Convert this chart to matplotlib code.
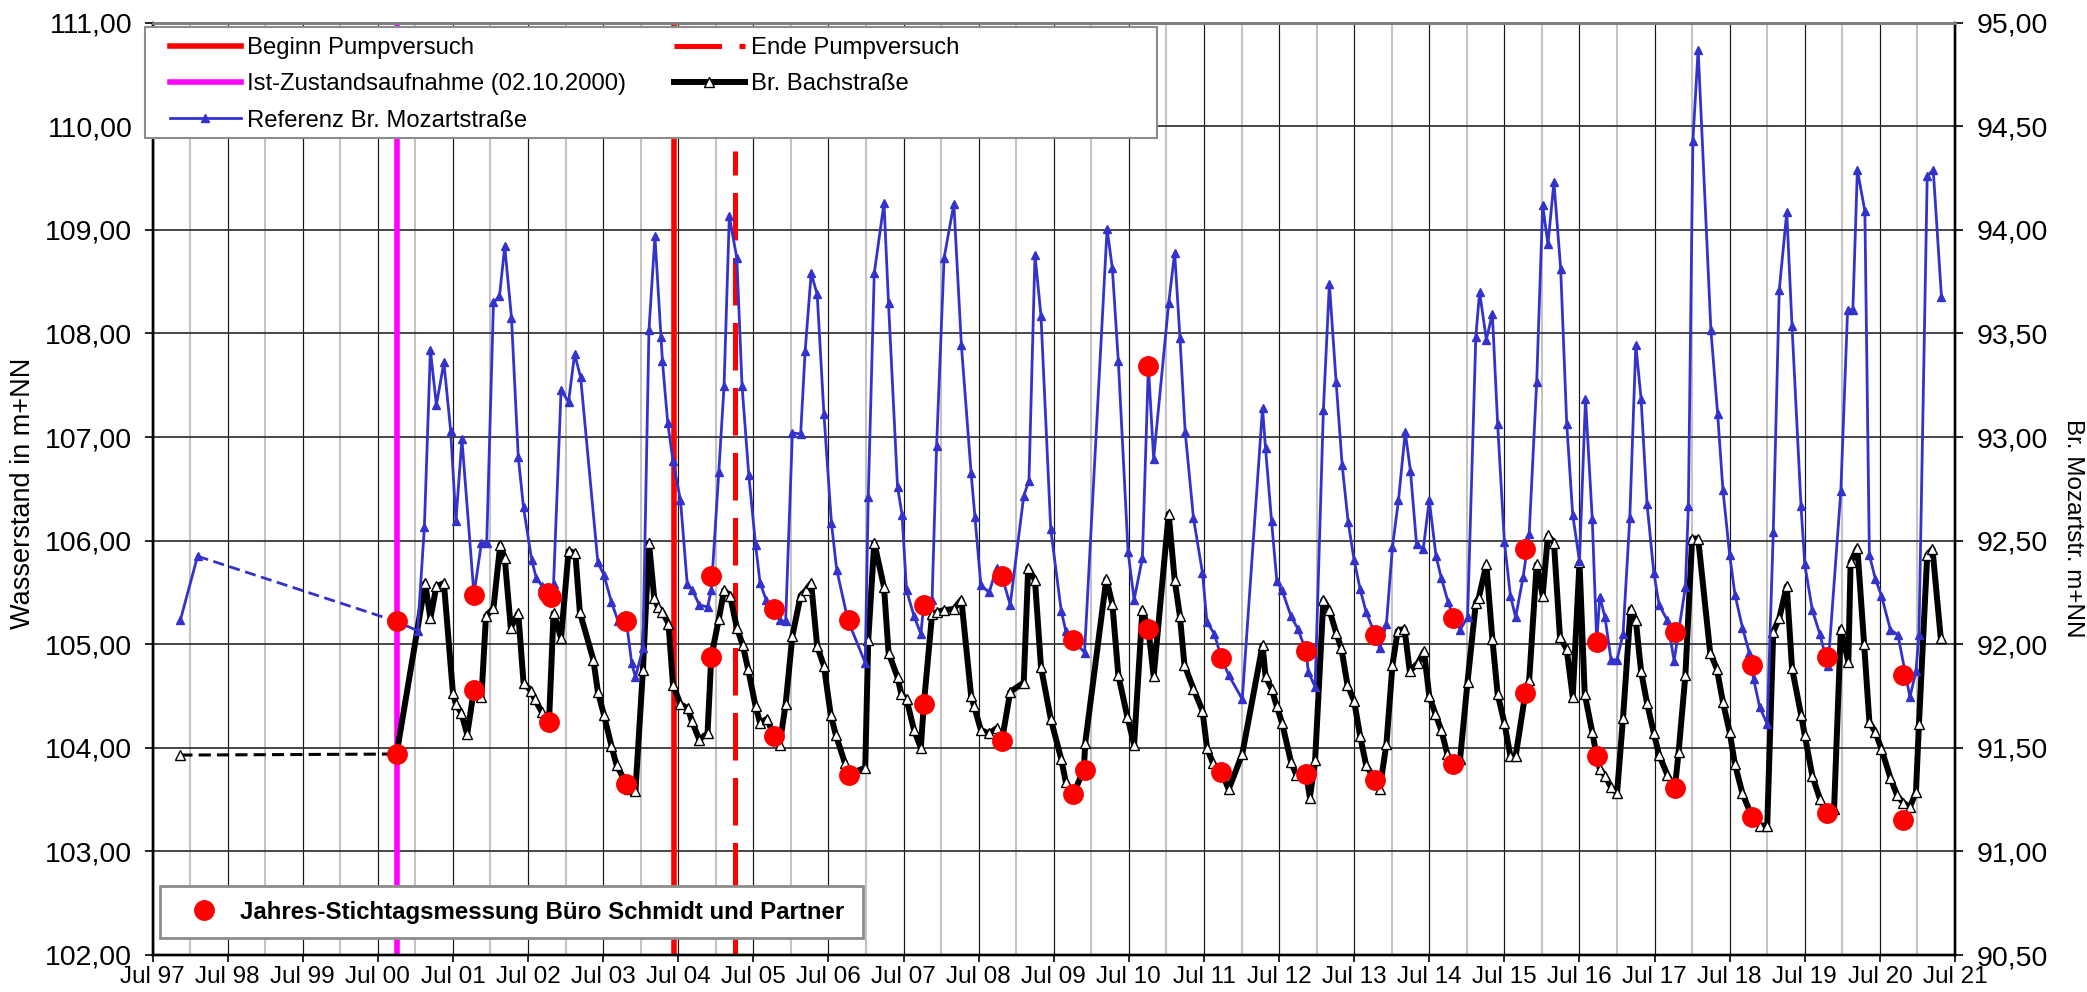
import matplotlib
matplotlib.use("Agg")
import matplotlib.pyplot as plt
from matplotlib.lines import Line2D
from matplotlib.patches import Rectangle
from matplotlib.ticker import FixedLocator, FuncFormatter

plt.rcParams['font.family'] = ['Liberation Sans', 'DejaVu Sans']

# ---------------- data (decimal years) ----------------
# Br. Bachstrasse (left axis, m+NN); first point isolated (joined by a dashed line)
bach_t = [1997.87,
          2000.75, 2001.13, 2001.20, 2001.28, 2001.38, 2001.50, 2001.54, 2001.61, 2001.69, 2001.78,
          2001.88, 2001.94, 2002.04, 2002.13, 2002.19, 2002.27, 2002.37, 2002.44, 2002.54, 2002.59,
          2002.68, 2002.78, 2002.84, 2002.94, 2003.04, 2003.13, 2003.19, 2003.37, 2003.43, 2003.51,
          2003.61, 2003.68, 2003.85, 2003.93, 2004.03, 2004.11, 2004.18, 2004.23, 2004.29, 2004.37,
          2004.43, 2004.53, 2004.63, 2004.68, 2004.78, 2004.89, 2004.94, 2005.04, 2005.11, 2005.19,
          2005.28, 2005.36, 2005.43, 2005.53, 2005.59, 2005.68, 2005.78, 2005.85, 2005.93, 2006.02,
          2006.13, 2006.20, 2006.27, 2006.35, 2006.44, 2006.53, 2006.60, 2006.72, 2006.77, 2006.99,
          2007.03, 2007.11, 2007.24, 2007.30, 2007.42, 2007.47, 2007.54, 2007.64, 2007.73, 2007.77,
          2007.88, 2007.94, 2008.04, 2008.17, 2008.27, 2008.40, 2008.44, 2008.53, 2008.64, 2008.74,
          2008.81, 2008.92, 2009.10, 2009.16, 2009.25, 2009.33, 2009.46, 2009.60, 2009.66, 2009.76,
          2009.90, 2009.92, 2010.20, 2010.28, 2010.36, 2010.48, 2010.57, 2010.68, 2010.76, 2010.83,
          2011.03, 2011.11, 2011.18, 2011.24, 2011.36, 2011.48, 2011.54, 2011.62, 2011.73, 2011.83,
          2012.01, 2012.28, 2012.32, 2012.40, 2012.47, 2012.54, 2012.66, 2012.73, 2012.86, 2012.91,
          2012.98, 2013.09, 2013.17, 2013.26, 2013.33, 2013.41, 2013.50, 2013.58, 2013.66, 2013.78,
          2013.84, 2013.93, 2014.01, 2014.08, 2014.17, 2014.24, 2014.35, 2014.43, 2014.50, 2014.58,
          2014.66, 2014.74, 2014.82, 2014.91, 2015.01, 2015.12, 2015.16, 2015.26, 2015.34, 2015.41,
          2015.50, 2015.58, 2015.65, 2015.78, 2015.83, 2015.93, 2016.01, 2016.08, 2016.16, 2016.24,
          2016.33, 2016.41, 2016.50, 2016.57, 2016.67, 2016.73, 2016.77, 2016.84, 2016.92, 2017.00,
          2017.08, 2017.18, 2017.25, 2017.32, 2017.40, 2017.49, 2017.56, 2017.67, 2017.77, 2017.82,
          2017.91, 2018.00, 2018.08, 2018.24, 2018.33, 2018.41, 2018.50, 2018.57, 2018.67, 2018.80,
          2018.90, 2019.00, 2019.08, 2019.16, 2019.26, 2019.33, 2019.45, 2019.50, 2019.60, 2019.70,
          2019.79, 2019.89, 2019.98, 2020.08, 2020.11, 2020.20, 2020.29, 2020.36, 2020.44, 2020.52,
          2020.64, 2020.73, 2020.81, 2020.90, 2020.98, 2021.02, 2021.13, 2021.20, 2021.31]
bach_v = [103.93,
          103.94, 105.59, 105.25, 105.56, 105.59, 104.53, 104.42, 104.34, 104.13, 104.56,
          104.49, 105.27, 105.35, 105.96, 105.83, 105.16, 105.30, 104.63, 104.55, 104.47,
          104.35, 104.26, 105.30, 105.06, 105.90, 105.88, 105.31, 104.85, 104.54, 104.32,
          104.02, 103.83, 103.60, 103.58, 104.75, 105.98, 105.45, 105.36, 105.31, 105.20,
          104.61, 104.42, 104.38, 104.26, 104.08, 104.14, 104.88, 105.24, 105.52, 105.47,
          105.16, 104.99, 104.76, 104.40, 104.24, 104.28, 104.11, 104.03, 104.42, 105.08,
          105.47, 105.52, 105.59, 104.98, 104.79, 104.32, 104.12, 103.85, 103.74, 103.81,
          105.04, 105.98, 105.55, 104.92, 104.68, 104.52, 104.47, 104.17, 104.00, 104.42,
          105.29, 105.31, 105.33, 105.34, 105.43, 104.50, 104.40, 104.17, 104.14, 104.19,
          104.07, 104.54, 104.63, 105.74, 105.62, 104.78, 104.28, 103.89, 103.67, 103.55,
          103.79, 104.05, 105.63, 105.39, 104.70, 104.30, 104.03, 105.33, 105.15, 104.69,
          106.26, 105.62, 105.27, 104.80, 104.57, 104.36, 104.00, 103.85, 103.77, 103.60,
          103.94, 104.99, 104.69, 104.57, 104.40, 104.24, 103.86, 103.74, 103.75, 103.52,
          103.88, 105.43, 105.33, 105.11, 104.96, 104.61, 104.45, 104.11, 103.83, 103.69,
          103.60, 104.04, 104.80, 105.13, 105.15, 104.74, 104.82, 104.93, 104.50, 104.33,
          104.17, 103.94, 103.84, 103.89, 104.64, 105.40, 105.45, 105.77, 105.05, 104.52,
          104.24, 103.92, 103.92, 104.53, 104.65, 105.77, 105.47, 106.05, 105.98, 105.07,
          104.95, 104.49, 105.79, 104.52, 104.15, 103.92, 103.80, 103.73, 103.62, 103.56,
          104.29, 105.34, 105.23, 104.74, 104.43, 104.14, 103.93, 103.74, 103.61, 103.96,
          104.70, 106.02, 106.02, 104.92, 104.76, 104.44, 104.15, 103.84, 103.56, 103.33,
          103.25, 103.25, 105.12, 105.25, 105.56, 104.77, 104.32, 104.12, 103.73, 103.51,
          103.37, 103.41, 105.15, 104.83, 105.79, 105.93, 105.00, 104.25, 104.15, 103.99,
          103.71, 103.54, 103.47, 103.43, 103.57, 104.23, 105.86, 105.92, 105.06]

# Referenz Br. Mozartstrasse (right axis, m+NN); first two points joined by a dashed line to the rest
moz_t = [1997.87, 1998.10,
         2000.75, 2001.03, 2001.12, 2001.20, 2001.28, 2001.38, 2001.47, 2001.54, 2001.62, 2001.78,
         2001.88, 2001.95, 2002.04, 2002.12, 2002.19, 2002.28, 2002.37, 2002.44, 2002.55, 2002.61,
         2002.69, 2002.78, 2002.84, 2002.94, 2003.04, 2003.12, 2003.20, 2003.43, 2003.51, 2003.61,
         2003.70, 2003.81, 2003.88, 2003.93, 2004.03, 2004.11, 2004.19, 2004.27, 2004.29, 2004.36,
         2004.43, 2004.53, 2004.62, 2004.69, 2004.78, 2004.89, 2004.94, 2005.04, 2005.11, 2005.18,
         2005.28, 2005.35, 2005.44, 2005.53, 2005.59, 2005.67, 2005.78, 2005.85, 2005.93, 2006.02,
         2006.13, 2006.19, 2006.27, 2006.35, 2006.44, 2006.54, 2006.61, 2006.76, 2006.99, 2007.03,
         2007.11, 2007.24, 2007.30, 2007.42, 2007.48, 2007.54, 2007.64, 2007.73, 2007.77, 2007.88,
         2007.94, 2008.04, 2008.17, 2008.27, 2008.40, 2008.45, 2008.53, 2008.64, 2008.74, 2008.81,
         2008.92, 2009.10, 2009.17, 2009.25, 2009.33, 2009.46, 2009.60, 2009.66, 2009.76, 2009.91,
         2010.21, 2010.28, 2010.36, 2010.49, 2010.57, 2010.68, 2010.76, 2010.83, 2011.03, 2011.11,
         2011.18, 2011.25, 2011.36, 2011.48, 2011.54, 2011.64, 2011.73, 2011.83, 2012.01, 2012.28,
         2012.32, 2012.40, 2012.47, 2012.54, 2012.66, 2012.75, 2012.86, 2012.89, 2012.98, 2013.09,
         2013.17, 2013.26, 2013.34, 2013.42, 2013.50, 2013.58, 2013.66, 2013.78, 2013.84, 2013.93,
         2014.01, 2014.09, 2014.18, 2014.25, 2014.33, 2014.42, 2014.50, 2014.59, 2014.66, 2014.75,
         2014.82, 2014.91, 2015.01, 2015.12, 2015.17, 2015.26, 2015.34, 2015.41, 2015.50, 2015.58,
         2015.65, 2015.75, 2015.83, 2015.93, 2016.01, 2016.08, 2016.16, 2016.25, 2016.33, 2016.41,
         2016.50, 2016.58, 2016.67, 2016.73, 2016.77, 2016.84, 2016.92, 2017.00, 2017.08, 2017.17,
         2017.25, 2017.32, 2017.40, 2017.49, 2017.56, 2017.67, 2017.76, 2017.91, 2017.95, 2018.01,
         2018.08, 2018.25, 2018.34, 2018.41, 2018.50, 2018.57, 2018.67, 2018.76, 2018.82, 2018.90,
         2019.00, 2019.08, 2019.16, 2019.26, 2019.33, 2019.45, 2019.50, 2019.60, 2019.70, 2019.81,
         2019.98, 2020.07, 2020.14, 2020.20, 2020.30, 2020.36, 2020.44, 2020.52, 2020.64, 2020.74,
         2020.90, 2020.98, 2021.02, 2021.13, 2021.21, 2021.32]
moz_v = [92.115, 92.425,
         92.110, 92.065, 92.565, 93.420, 93.155, 93.360, 93.030, 92.595, 92.990, 92.240,
         92.490, 92.490, 93.650, 93.680, 93.920, 93.575, 92.905, 92.660, 92.405, 92.320,
         92.280, 92.245, 92.290, 93.225, 93.170, 93.400, 93.290, 92.395, 92.335, 92.205,
         92.110, 92.110, 91.910, 91.840, 91.980, 93.515, 93.970, 93.485, 93.365, 93.070,
         92.885, 92.695, 92.290, 92.260, 92.190, 92.180, 92.260, 92.830, 93.245, 94.065,
         93.865, 93.245, 92.815, 92.480, 92.295, 92.215, 92.170, 92.115, 92.110, 93.020,
         93.015, 93.415, 93.790, 93.690, 93.110, 92.585, 92.360, 92.115, 91.910, 92.710,
         93.790, 94.130, 93.645, 92.760, 92.625, 92.260, 92.135, 92.050, 92.190, 92.215,
         92.955, 93.865, 94.125, 93.445, 92.825, 92.615, 92.285, 92.250, 92.370, 92.330,
         92.190, 92.715, 92.790, 93.880, 93.585, 92.555, 92.160, 92.065, 92.020, 91.960,
         94.005, 93.815, 93.365, 92.445, 92.215, 92.415, 93.345, 92.895, 93.645, 93.890,
         93.480, 93.025, 92.610, 92.345, 92.105, 92.050, 91.935, 91.850, 91.735, 93.140,
         92.945, 92.595, 92.305, 92.260, 92.135, 92.075, 91.965, 91.865, 91.795, 93.130,
         93.740, 93.265, 92.865, 92.590, 92.405, 92.265, 92.155, 92.045, 91.980, 92.100,
         92.470, 92.695, 93.025, 92.835, 92.485, 92.460, 92.695, 92.425, 92.320, 92.205,
         92.125, 92.070, 92.130, 93.485, 93.700, 93.470, 93.595, 93.065, 92.495, 92.235,
         92.130, 92.325, 92.530, 93.265, 94.120, 93.930, 94.230, 93.810, 93.065, 92.625,
         92.400, 93.185, 92.605, 92.010, 92.230, 92.130, 91.925, 91.925, 92.050, 92.610,
         93.445, 93.185, 92.675, 92.345, 92.190, 92.115, 91.920, 92.275, 92.665, 94.430,
         94.870, 93.515, 93.110, 92.745, 92.430, 92.240, 92.080, 91.960, 91.830, 91.695,
         91.615, 92.540, 93.710, 94.085, 93.535, 92.665, 92.385, 92.165, 92.050, 91.895,
         92.740, 93.615, 93.615, 94.290, 94.090, 92.430, 92.315, 92.235, 92.070, 92.045,
         91.745, 91.870, 92.045, 94.260, 94.290, 93.675]

# Jahres-Stichtagsmessung Buero Schmidt und Partner
stich_bach_t = [2000.75, 2001.78, 2002.78, 2003.81, 2004.94, 2005.78, 2006.77, 2007.77, 2008.81,
                2009.76, 2009.91, 2010.76, 2011.73, 2012.86, 2013.78, 2014.82, 2015.78, 2016.73,
                2017.77, 2018.80, 2019.80, 2020.81]
stich_bach_v = [103.94, 104.56, 104.25, 103.65, 104.88, 104.11, 103.74, 104.42, 104.07,
                103.55, 103.79, 105.15, 103.77, 103.75, 103.69, 103.84, 104.53, 103.92,
                103.61, 103.33, 103.37, 103.30]
stich_moz_t = [2000.75, 2001.78, 2002.76, 2002.80, 2003.81, 2004.94, 2005.78, 2006.77, 2007.77,
               2008.81, 2009.76, 2010.76, 2011.73, 2012.86, 2013.78, 2014.82, 2015.78, 2016.73,
               2017.77, 2018.80, 2019.80, 2020.81]
stich_moz_v = [92.110, 92.240, 92.245, 92.230, 92.110, 92.330, 92.170, 92.115, 92.190,
               92.330, 92.020, 93.345, 91.935, 91.965, 92.045, 92.125, 92.460, 92.010,
               92.060, 91.900, 91.940, 91.850]

# event dates
ist_date = 2000.753        # 02.10.2000
pump_start = 2004.45
pump_end = 2005.25
pump_end_top = 109.76

year_ticks = list(range(1997, 2022))
left_ticks = [102, 103, 104, 105, 106, 107, 108, 109, 110, 111]
right_ticks = [90.5, 91.0, 91.5, 92.0, 92.5, 93.0, 93.5, 94.0, 94.5, 95.0]

# ---------------- figure ----------------
W, H = 2087, 992
fig = plt.figure(figsize=(W / 100, H / 100), dpi=100)
ax_l, ax_r, ax_t, ax_b = 152.5, 1955.0, 22.7, 955.0
ax = fig.add_axes([ax_l / W, 1 - ax_b / H, (ax_r - ax_l) / W, (ax_b - ax_t) / H])
ax2 = ax.twinx()

ax.set_xlim(1997.5, 2021.5)
ax.set_ylim(102, 111)
ax2.set_ylim(90.5, 95)

BLUE = '#3333CC'

# grid
ax.xaxis.set_major_locator(FixedLocator([y + 0.5 for y in year_ticks]))
ax.xaxis.set_minor_locator(FixedLocator([y + 1.0 for y in year_ticks]))
ax.xaxis.set_major_formatter(FuncFormatter(lambda v, p: "Jul %02d" % (int(v) % 100)))
ax.yaxis.set_major_locator(FixedLocator(left_ticks))
ax.yaxis.set_major_formatter(FuncFormatter(lambda v, p: ("%.2f" % v).replace('.', ',')))
ax2.yaxis.set_major_locator(FixedLocator(right_ticks))
ax2.yaxis.set_major_formatter(FuncFormatter(lambda v, p: ("%.2f" % v).replace('.', ',')))

ax.grid(True, which='major', axis='x', color='#151515', lw=0.85)
ax.grid(True, which='minor', axis='x', color='#c4c4c4', lw=1.5)
ax.grid(True, which='major', axis='y', color='#303030', lw=1.25)
ax.set_axisbelow(True)

ax.tick_params(axis='x', which='major', direction='out', length=5, width=1.2,
               labelsize=17.5, pad=3)
ax.tick_params(axis='x', which='minor', length=0)
ax.tick_params(axis='y', direction='out', length=5.5, width=1.2, labelsize=20.5, pad=9)
ax2.tick_params(axis='y', direction='out', length=5.5, width=1.2, labelsize=20.5, pad=10)

for a in (ax, ax2):
    for s in ('left', 'right', 'bottom'):
        a.spines[s].set_color('black')
        a.spines[s].set_linewidth(1.7)
    a.spines['top'].set_color('#808080')
    a.spines['top'].set_linewidth(2.0)

# event lines
ax.axvline(ist_date, color='#FF00FF', lw=4.0, zorder=2)
ax.axvline(pump_start, color='#FF0000', lw=4.0, zorder=2)
ax.vlines(pump_end, 102, pump_end_top, color='#FF0000', lw=3.6,
          linestyles=(0, (9.5, 3.5)), zorder=2)

# Br. Bachstrasse
ax.plot(bach_t[:2], bach_v[:2], color='black', lw=2.2, ls=(0, (4, 2)), zorder=3)
ax.plot(bach_t[1:], bach_v[1:], color='black', lw=4.3, zorder=3)
ax.plot(bach_t, bach_v, ls='none', marker='^', ms=7.5, mfc='white', mec='black',
        mew=1.0, zorder=4)
ax.plot(stich_bach_t, stich_bach_v, ls='none', marker='o', ms=14, color='#FF0000',
        mec='#FF0000', zorder=6)

# Mozartstrasse (right axis)
ax2.plot(moz_t[:2], moz_v[:2], color=BLUE, lw=2.0, zorder=3)
ax2.plot(moz_t[1:3], moz_v[1:3], color=BLUE, lw=2.0, ls=(0, (4, 2)), zorder=3)
ax2.plot(moz_t[2:], moz_v[2:], color=BLUE, lw=2.0, zorder=3)
ax2.plot(moz_t, moz_v, ls='none', marker='^', ms=5.5, color=BLUE, zorder=4)
ax2.plot(stich_moz_t, stich_moz_v, ls='none', marker='o', ms=14, color='#FF0000',
         mec='#FF0000', zorder=6)

# axis titles
fig.text(23 / W, 1 - 493 / H, 'Wasserstand in m+NN', rotation=90, fontsize=19.5,
         ha='center', va='center')
fig.text(2073 / W, 1 - 528 / H, 'Br. Mozartstr. m+NN', rotation=270, fontsize=17.5,
         ha='center', va='center')

# legend 1 (frame drawn separately)
fig.patches.append(Rectangle((145 / W, 1 - 138.3 / H), (1157 - 145) / W, (138.3 - 27.3) / H,
                             transform=fig.transFigure, facecolor='white',
                             edgecolor='#8c8c8c', lw=1.5, zorder=4))
h_begin = Line2D([], [], color='#FF0000', lw=4.0)
h_ist = Line2D([], [], color='#FF00FF', lw=4.0)
h_ref = Line2D([], [], color=BLUE, lw=2.0, marker='^', ms=5.5)
h_end = Line2D([], [], color='#FF0000', lw=3.6, ls=(0, (9.5, 3.5)))
h_bach = Line2D([], [], color='black', lw=4.3, marker='^', ms=7.5, mfc='white', mec='black')
fig.legend([h_begin, h_ist, h_ref, h_end, h_bach],
           ['Beginn Pumpversuch', 'Ist-Zustandsaufnahme (02.10.2000)',
            'Referenz Br. Mozartstraße', 'Ende Pumpversuch', 'Br. Bachstraße'],
           loc='upper left', bbox_to_anchor=(170 / W, 1 - 37 / H), ncol=2,
           frameon=False, fontsize=17.2, handlelength=2.97, handletextpad=0.25,
           columnspacing=2.0, labelspacing=0.6, borderpad=0, borderaxespad=0)

# legend 2
fig.patches.append(Rectangle((160 / W, 1 - 938 / H), (863 - 160) / W, (938 - 886) / H,
                             transform=fig.transFigure, facecolor='white',
                             edgecolor='#8c8c8c', lw=2.0, zorder=4))
h_dot = Line2D([], [], ls='none', marker='o', ms=14, color='#FF0000')
fig.legend([h_dot], ['Jahres-Stichtagsmessung Büro Schmidt und Partner'],
           loc='center left', bbox_to_anchor=(192 / W, 1 - 912 / H), frameon=False,
           handlelength=1.0, handletextpad=1.0, borderpad=0, borderaxespad=0,
           prop={'weight': 'bold', 'size': 17.3})

fig.savefig('out.png', dpi=100)
